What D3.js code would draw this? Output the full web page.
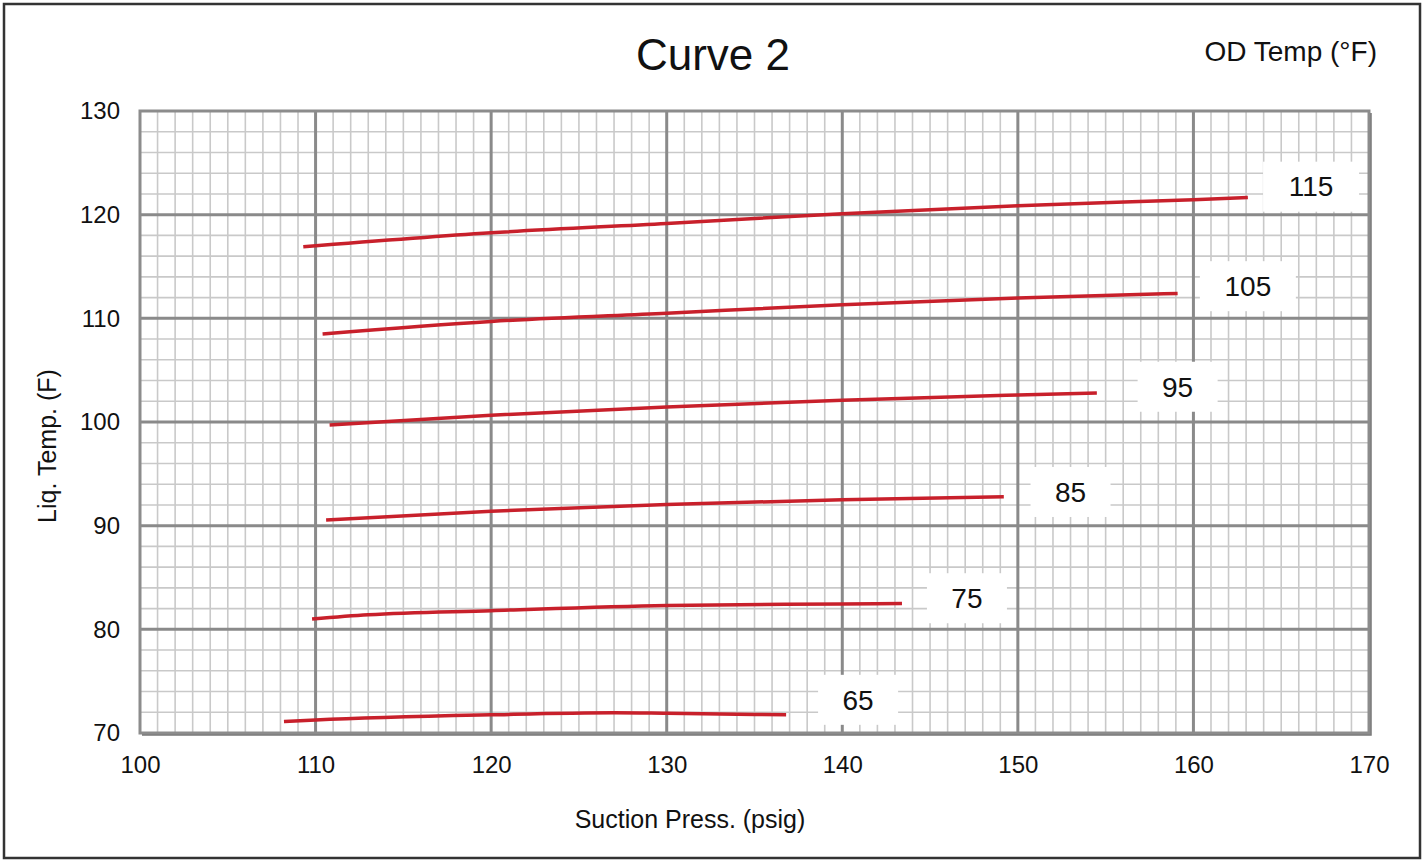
<!DOCTYPE html>
<html>
<head>
<meta charset="utf-8">
<script src="https://cdn.jsdelivr.net/npm/d3@7"></script>
<style>
  html, body { margin: 0; padding: 0; background: #fff; }
  svg { display: block; font-family: "Liberation Sans", Arial, sans-serif; }
</style>
</head>
<body>
<svg id="chart" width="1423" height="861"></svg>
<script>
// ---- data ----
const seriesNames = ["115", "105", "95", "85", "75", "65"];
const press115 = [109.3, 120, 130, 140, 150, 160, 163.1];
const temp115  = [116.9, 118.25, 119.15, 120.1, 120.85, 121.45, 121.65];
const press105 = [110.4, 120, 130, 140, 150, 159.1];
const temp105  = [108.5, 109.7, 110.5, 111.3, 111.95, 112.4];
const press95  = [110.8, 120, 130, 140, 150, 154.5];
const temp95   = [99.7, 100.65, 101.45, 102.1, 102.6, 102.8];
const press85  = [110.6, 120, 130, 140, 149.2];
const temp85   = [90.55, 91.4, 92.05, 92.5, 92.8];
const press75  = [109.8, 113, 120, 130, 140, 143.4];
const temp75   = [81.0, 81.4, 81.8, 82.3, 82.45, 82.5];
const press65  = [108.2, 110, 120, 127, 130, 136.8];
const temp65   = [71.1, 71.25, 71.75, 71.95, 71.9, 71.75];
// label anchors (data units)
const labelPress = [166.7, 163.1, 159.1, 153.0, 147.1, 140.9];
const labelTemp  = [122.7, 113.1, 103.4, 93.25, 83.0, 73.2];
const xTicks = [100, 110, 120, 130, 140, 150, 160, 170];
const yTicks = [70, 80, 90, 100, 110, 120, 130];
const titleText = "Curve 2";
const legendTitle = "OD Temp (°F)";
const xTitle = "Suction Press. (psig)";
const yTitle = "Liq. Temp. (F)";

(function draw() {
  const pressArrays = [press115, press105, press95, press85, press75, press65];
  const tempArrays  = [temp115, temp105, temp95, temp85, temp75, temp65];
  const series = seriesNames.map((name, i) => ({
    name,
    points: pressArrays[i].map((p, j) => ({ x: p, y: tempArrays[i][j] })),
    lx: labelPress[i], ly: labelTemp[i]
  }));

  const svg = d3.select("#chart");
  const pL = 140, pR = 1369, pT = 111, pB = 733;
  const FONT = "'Liberation Sans', Arial, sans-serif";

  const x = d3.scaleLinear().domain([100, 170]).range([pL, pR]);
  const y = d3.scaleLinear().domain([70, 130]).range([pB, pT]);

  // outer frame
  svg.append("rect").attr("x", 4).attr("y", 4).attr("width", 1416).attr("height", 854)
    .attr("fill", "#fff").attr("stroke", "#333").attr("stroke-width", 2.5);

  svg.append("rect").attr("x", pL).attr("y", pT).attr("width", pR - pL).attr("height", pB - pT)
    .attr("fill", "#fff");

  // minor grid
  const minorX = d3.range(101, 170, 1).filter(v => v % 10 !== 0);
  const minorY = d3.range(72, 130, 2).filter(v => v % 10 !== 0);
  const grid = svg.append("g");
  grid.selectAll("line.mx").data(minorX).join("line").attr("class", "mx")
    .attr("x1", d => x(d)).attr("x2", d => x(d)).attr("y1", pT).attr("y2", pB)
    .attr("stroke", "#c9c9c9").attr("stroke-width", 1.6);
  grid.selectAll("line.my").data(minorY).join("line").attr("class", "my")
    .attr("y1", d => y(d)).attr("y2", d => y(d)).attr("x1", pL).attr("x2", pR)
    .attr("stroke", "#c9c9c9").attr("stroke-width", 1.6);
  // major grid
  grid.selectAll("line.Mx").data(xTicks.slice(1, -1)).join("line").attr("class", "Mx")
    .attr("x1", d => x(d)).attr("x2", d => x(d)).attr("y1", pT).attr("y2", pB)
    .attr("stroke", "#8a8a8a").attr("stroke-width", 3);
  grid.selectAll("line.My").data(yTicks.slice(1, -1)).join("line").attr("class", "My")
    .attr("y1", d => y(d)).attr("y2", d => y(d)).attr("x1", pL).attr("x2", pR)
    .attr("stroke", "#8a8a8a").attr("stroke-width", 3);

  // plot frame with shadow on right/bottom
  svg.append("path")
    .attr("d", `M${pL + 2},${pB + 1.5} L${pR + 1.5},${pB + 1.5} L${pR + 1.5},${pT + 2}`)
    .attr("fill", "none").attr("stroke", "#777").attr("stroke-width", 2.5);
  svg.append("rect").attr("x", pL).attr("y", pT).attr("width", pR - pL).attr("height", pB - pT)
    .attr("fill", "none").attr("stroke", "#8c8c8c").attr("stroke-width", 3);

  // axes (tick labels only)
  const gx = svg.append("g").attr("transform", `translate(0,${pB})`)
    .call(d3.axisBottom(x).tickValues(xTicks).tickSize(0).tickPadding(23));
  gx.select(".domain").remove();
  gx.selectAll("text").attr("font-size", 24).attr("fill", "#111").attr("font-family", FONT);

  const gy = svg.append("g").attr("transform", `translate(${pL},0)`)
    .call(d3.axisLeft(y).tickValues(yTicks).tickSize(0).tickPadding(20));
  gy.select(".domain").remove();
  gy.selectAll("text").attr("font-size", 24).attr("fill", "#111").attr("font-family", FONT);

  // lines
  const line = d3.line().x(d => x(d.x)).y(d => y(d.y)).curve(d3.curveMonotoneX);
  svg.append("g").selectAll("path").data(series).join("path")
    .attr("d", d => line(d.points))
    .attr("fill", "none").attr("stroke", "#c8202b").attr("stroke-width", 3.5);

  // labels with white boxes
  const lg = svg.append("g").selectAll("g").data(series).join("g")
    .attr("transform", d => `translate(${x(d.lx)},${y(d.ly)})`);
  lg.append("rect")
    .attr("x", d => -(d.name.length === 3 ? 48 : 40))
    .attr("y", -25)
    .attr("width", d => d.name.length === 3 ? 96 : 80)
    .attr("height", 50)
    .attr("fill", "#fff");
  lg.append("text").text(d => d.name)
    .attr("text-anchor", "middle").attr("dy", "0.35em")
    .attr("font-size", 28).attr("fill", "#111").attr("font-family", FONT);

  // titles
  svg.append("text").text(titleText).attr("x", 713).attr("y", 70)
    .attr("text-anchor", "middle").attr("font-size", 44).attr("fill", "#111");
  svg.append("text").text(legendTitle).attr("x", 1377).attr("y", 61)
    .attr("text-anchor", "end").attr("font-size", 28).attr("fill", "#111");
  svg.append("text").text(xTitle).attr("x", 690).attr("y", 828)
    .attr("text-anchor", "middle").attr("font-size", 25).attr("fill", "#111");
  svg.append("text").text(yTitle)
    .attr("transform", "translate(56,446) rotate(-90)")
    .attr("text-anchor", "middle").attr("font-size", 25).attr("fill", "#111");
})();
</script>
</body>
</html>
